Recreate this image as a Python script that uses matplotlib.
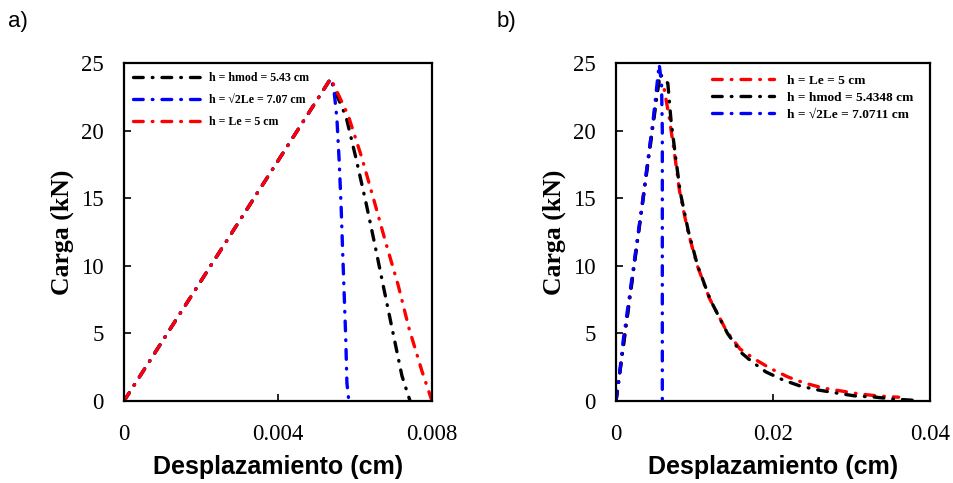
import matplotlib
matplotlib.use("Agg")
import matplotlib.pyplot as plt

plt.rcParams["lines.scale_dashes"] = False

# Panel a) load-displacement curves (cm, kN)
a_hmod_x = [0.0, 0.00537, 0.0055, 0.00577, 0.00603, 0.00629, 0.00652, 0.00675, 0.00699, 0.00722, 0.00743]
a_hmod_y = [0.0, 23.85, 22.8, 21.0, 17.9, 14.6, 11.5, 8.3, 5.0, 1.85, 0.0]
a_sqrt2_x = [0.0, 0.00537, 0.00545, 0.00553, 0.00559, 0.00564, 0.00568, 0.00572, 0.00576, 0.00579, 0.00584]
a_sqrt2_y = [0.0, 23.85, 23.1, 20.9, 17.7, 14.35, 11.0, 7.84, 4.6, 1.33, 0.0]
a_le_x = [0.0, 0.00537, 0.00582, 0.00618, 0.00649, 0.0068, 0.00712, 0.0074, 0.00774, 0.008]
a_le_y = [0.0, 23.85, 21.15, 17.97, 14.87, 11.7, 8.58, 5.4, 2.2, 0.0]

# Panel b) load-displacement curves (cm, kN)
b_le_x = [0.0, 0.0054, 0.0061, 0.0068, 0.0075, 0.0081, 0.0091, 0.0103, 0.0119, 0.0141,
          0.0158, 0.0178, 0.0197, 0.0219, 0.024, 0.0264, 0.0287, 0.031, 0.0335, 0.036]
b_le_y = [0.0, 23.6, 23.2, 20.9, 18.1, 15.5, 12.7, 10.1, 7.6, 5.15,
          3.85, 3.05, 2.4, 1.78, 1.33, 0.96, 0.74, 0.52, 0.37, 0.28]
b_hmod_x = [0.0, 0.0056, 0.0066, 0.007, 0.0076, 0.0082, 0.0092, 0.0104, 0.012, 0.0142,
            0.0159, 0.0172, 0.0191, 0.0213, 0.0235, 0.0258, 0.0281, 0.0305, 0.0328, 0.0352, 0.038]
b_hmod_y = [0.0, 24.2, 23.5, 20.8, 18.0, 15.4, 12.6, 10.0, 7.5, 5.0,
            3.6, 2.96, 2.15, 1.55, 1.1, 0.81, 0.59, 0.37, 0.3, 0.15, 0.05]
b_sqrt2_x = [0.0, 0.0004, 0.0009, 0.0022, 0.0035, 0.0041, 0.0047, 0.0055, 0.0058, 0.0059, 0.0059]
b_sqrt2_y = [0.0, 1.7, 4.4, 9.8, 15.2, 18.0, 20.6, 24.9, 23.5, 20.0, 0.0]

lbl_hmod_a = "h = hmod = 5.43 cm"
lbl_sqrt2_a = "h = \u221a2Le = 7.07 cm"
lbl_le_a = "h = Le = 5 cm"
lbl_le_b = "h = Le = 5 cm"
lbl_hmod_b = "h = hmod = 5.4348 cm"
lbl_sqrt2_b = "h = \u221a2Le = 7.0711 cm"

a_xticks = [0, 0.004, 0.008]
a_xticklabels = ["0", "0.004", "0.008"]
b_xticks = [0, 0.02, 0.04]
b_xticklabels = ["0", "0.02", "0.04"]
yticks = [0, 5, 10, 15, 20, 25]

RED = "#ff0000"
BLUE = "#0000ff"
BLACK = "#000000"
dash = (0, (7, 6.5, 0.5, 6.5))
serif = ["Liberation Serif", "DejaVu Serif"]
sans = ["Liberation Sans", "DejaVu Sans"]

fig = plt.figure(figsize=(9.54, 4.83), dpi=100)
ax1 = fig.add_axes([124 / 954, 1 - 401 / 483, 308 / 954, 338 / 483])
ax2 = fig.add_axes([616 / 954, 1 - 401 / 483, 314 / 954, 338 / 483])

lw = 2.4
kw = dict(lw=lw, linestyle=dash, dash_capstyle="round")

ax1.plot(a_hmod_x, a_hmod_y, color=BLACK, label=lbl_hmod_a, **kw)
ax1.plot(a_sqrt2_x, a_sqrt2_y, color=BLUE, label=lbl_sqrt2_a, **kw)
ax1.plot(a_le_x, a_le_y, color=RED, label=lbl_le_a, **kw)

ax2.plot(b_le_x, b_le_y, color=RED, label=lbl_le_b, **kw)
ax2.plot(b_hmod_x, b_hmod_y, color=BLACK, label=lbl_hmod_b, **kw)
ax2.plot(b_sqrt2_x, b_sqrt2_y, color=BLUE, label=lbl_sqrt2_b, **kw)

for ax, xt, xtl, xmax in [(ax1, a_xticks, a_xticklabels, 0.008),
                          (ax2, b_xticks, b_xticklabels, 0.04)]:
    ax.set_xlim(0, xmax)
    ax.set_ylim(0, 25)
    ax.set_xticks(xt)
    ax.set_xticklabels(xtl)
    ax.set_yticks(yticks)
    ax.tick_params(direction="in", length=5, width=1.2, labelsize=16.5)
    ax.tick_params(axis="x", pad=16.5)
    ax.tick_params(axis="y", pad=14.5)
    for t in ax.get_xticklabels() + ax.get_yticklabels():
        t.set_family(serif)
    for s in ax.spines.values():
        s.set_linewidth(1.6)
    ax.set_xlabel("Desplazamiento (cm)", fontsize=18, fontweight="bold", family=sans, labelpad=7)
    ax.set_ylabel("Carga (kN)", fontsize=18.5, fontweight="bold", family=serif, labelpad=5)

ax1.legend(loc="upper left", bbox_to_anchor=(0.0, 1.0), frameon=False,
           prop=dict(family=serif, weight="bold", size=8.6),
           handlelength=5.9, handletextpad=0.45, labelspacing=0.85, borderaxespad=0.35)
ax2.legend(loc="upper right", bbox_to_anchor=(1.0 - 4 / 314, 1.0 + 1 / 338), frameon=False,
           prop=dict(family=serif, weight="bold", size=9.6),
           handlelength=4.65, handletextpad=0.95, labelspacing=0.35, borderaxespad=0.55)

fig.text(8 / 954, 1 - 22 / 483, "a)", fontsize=16, family=sans, va="center")
fig.text(497 / 954, 1 - 22 / 483, "b)", fontsize=16, family=sans, va="center")

fig.savefig("out.png", dpi=100)
